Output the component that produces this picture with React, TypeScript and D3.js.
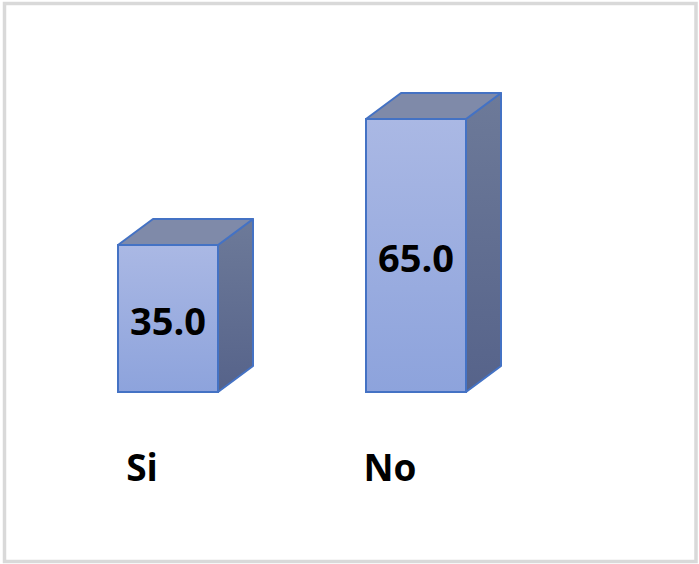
import React from "react";
import * as d3 from "d3";

const categories: string[] = ["Si", "No"];
const values: number[] = [35.0, 65.0];

const W = 699;
const H = 564;

export default function App() {
  const x = d3.scalePoint<string>().domain(categories).range([168, 416]);
  const y = d3.scaleLinear().domain([0, 65]).range([392, 119]);
  const barW = 100;
  const dx = 35;
  const dy = -26;
  const stroke = "#4472c4";
  const fmt = d3.format(".1f");

  return (
    <svg
      width={W}
      height={H}
      style={{ position: "absolute", left: 0, top: 0 }}
      xmlns="http://www.w3.org/2000/svg"
    >
      <defs>
        <linearGradient id="front" x1="0" y1="0" x2="0" y2="1">
          <stop offset="0%" stopColor="#aab8e4" />
          <stop offset="100%" stopColor="#8da3dc" />
        </linearGradient>
        <linearGradient id="side" x1="0" y1="0" x2="0" y2="1">
          <stop offset="0%" stopColor="#6d7a99" />
          <stop offset="100%" stopColor="#56638a" />
        </linearGradient>
      </defs>
      <rect x={0} y={0} width={W} height={H} fill="#ffffff" />
      <rect
        x={4.5}
        y={3.5}
        width={691.5}
        height={558}
        fill="#ffffff"
        stroke="#d9d9d9"
        strokeWidth={3.5}
      />
      {categories.map((c, i) => {
        const cx = x(c) as number;
        const x0 = cx - barW / 2;
        const x1 = cx + barW / 2;
        const yTop = y(values[i]);
        const yBase = y(0);
        const topPath = `M${x0},${yTop} L${x0 + dx},${yTop + dy} L${x1 + dx},${yTop + dy} L${x1},${yTop} Z`;
        const sidePath = `M${x1},${yTop} L${x1 + dx},${yTop + dy} L${x1 + dx},${yBase + dy} L${x1},${yBase} Z`;
        return (
          <g key={c}>
            <path d={sidePath} fill="url(#side)" stroke={stroke} strokeWidth={2} strokeLinejoin="round" />
            <path d={topPath} fill="#7f8aa9" stroke={stroke} strokeWidth={2} strokeLinejoin="round" />
            <rect
              x={x0}
              y={yTop}
              width={barW}
              height={yBase - yTop}
              fill="url(#front)"
              stroke={stroke}
              strokeWidth={2}
            />
            <text
              x={cx}
              y={(yTop + yBase) / 2 + 1}
              textAnchor="middle"
              dominantBaseline="central"
              fontFamily="'Open Sans', sans-serif"
              fontWeight={700}
              fontSize={38}
              fill="#000000"
            >
              {fmt(values[i])}
            </text>
            <text
              x={cx + dy}
              y={481}
              textAnchor="middle"
              fontFamily="'Open Sans', sans-serif"
              fontWeight={700}
              fontSize={37}
              fill="#000000"
            >
              {c}
            </text>
          </g>
        );
      })}
    </svg>
  );
}
